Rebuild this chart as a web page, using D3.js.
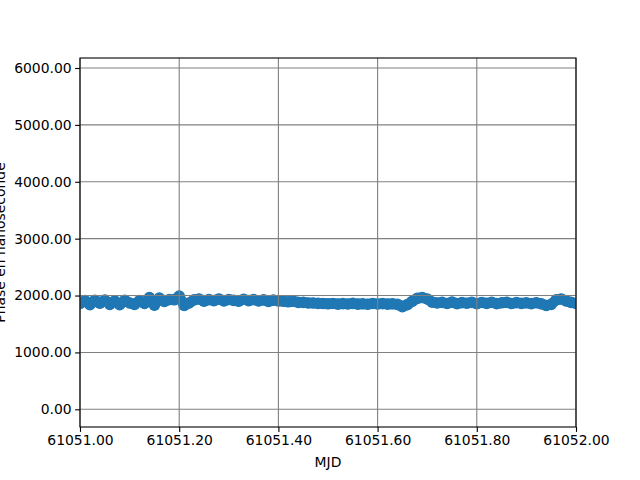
<!DOCTYPE html>
<html>
<head>
<meta charset="utf-8">
<script src="https://cdn.jsdelivr.net/npm/d3@7"></script>
<style>
  body { margin: 0; background: #fff; }
  text { font-family: "DejaVu Sans", sans-serif; }
</style>
</head>
<body>
<svg id="chart" width="640" height="480"></svg>
<script>
// ---- data ----
const mjdStart = 61051.0;
const mjdStep = 0.01;
const phaseNs = [
  1860, 1910, 1840, 1915, 1865, 1920, 1845, 1905, 1840, 1915,
  1870, 1845, 1910, 1860, 1965, 1830, 1955, 1895, 1930, 1925,
  1990, 1825, 1870, 1925, 1940, 1900, 1930, 1910, 1940, 1905,
  1930, 1915, 1900, 1935, 1910, 1930, 1905, 1925, 1895, 1920,
  1905, 1900, 1890, 1900, 1880, 1880, 1870, 1870, 1862, 1860,
  1855, 1860, 1850, 1858, 1852, 1862, 1850, 1856, 1848, 1860,
  1852, 1858, 1850, 1855, 1845, 1805, 1840, 1900, 1950, 1965,
  1940, 1885, 1870, 1880, 1860, 1885, 1858, 1875, 1865, 1880,
  1858, 1878, 1862, 1882, 1858, 1872, 1880, 1860, 1876, 1862,
  1872, 1858, 1874, 1855, 1825, 1845, 1925, 1940, 1905, 1880,
  1860
];
const mjd = phaseNs.map((_, i) => +(mjdStart + i * mjdStep).toFixed(2));
const xTicks = [61051.0, 61051.2, 61051.4, 61051.6, 61051.8, 61052.0];
const yTicks = [0, 1000, 2000, 3000, 4000, 5000, 6000];
const xLabel = "MJD";
const yLabel = "Phase en nanoseconde";

// ---- layout ----
const svg = d3.select("#chart");
const L = 80, R = 576, T = 58, B = 427;
const x = d3.scaleLinear().domain([61051.0, 61052.0]).range([L, R]);
const y = d3.scaleLinear().domain([-311, 6176]).range([B, T]);

svg.append("rect").attr("width", 640).attr("height", 480).attr("fill", "#fff");

svg.append("defs").append("clipPath").attr("id", "clip")
  .append("rect").attr("x", L).attr("y", T).attr("width", R - L).attr("height", B - T);

// data
const pts = svg.append("g").attr("clip-path", "url(#clip)");
pts.append("path")
  .datum(phaseNs.map((v, i) => [mjd[i], v]))
  .attr("fill", "none").attr("stroke", "#1f77b4").attr("stroke-width", 10.5)
  .attr("stroke-linejoin", "round").attr("stroke-linecap", "round")
  .attr("d", d3.line().x(d => x(d[0])).y(d => y(d[1])));
pts.selectAll("circle").data(phaseNs).join("circle")
  .attr("cx", (d, i) => x(mjd[i]))
  .attr("cy", d => y(d))
  .attr("r", 5.8)
  .attr("fill", "#1f77b4");

// grid (drawn above data)
const grid = svg.append("g");
grid.selectAll("line.gx").data(xTicks).join("line")
  .attr("x1", d => x(d)).attr("x2", d => x(d))
  .attr("y1", T).attr("y2", B)
  .attr("stroke", "#808080").attr("stroke-width", 1.1);
grid.selectAll("line.gy").data(yTicks).join("line")
  .attr("x1", L).attr("x2", R)
  .attr("y1", d => y(d)).attr("y2", d => y(d))
  .attr("stroke", "#808080").attr("stroke-width", 1.1);

// axes
const xAxis = d3.axisBottom(x).tickValues(xTicks).tickFormat(d3.format(".2f"))
  .tickSizeInner(4.9).tickSizeOuter(0).tickPadding(3.5);
const yAxis = d3.axisLeft(y).tickValues(yTicks).tickFormat(d3.format(".2f"))
  .tickSizeInner(4.9).tickSizeOuter(0).tickPadding(3.5);

const gx = svg.append("g").attr("transform", `translate(0,${B})`).call(xAxis);
const gy = svg.append("g").attr("transform", `translate(${L},0)`).call(yAxis);
[gx, gy].forEach(g => {
  g.select(".domain").remove();
  g.selectAll(".tick line").attr("stroke", "#000").attr("stroke-width", 1.1);
  g.selectAll(".tick text").attr("fill", "#000").style("font-size", "13.9px")
    .style("font-family", "DejaVu Sans, sans-serif");
});

// spines
svg.append("rect").attr("x", L).attr("y", T).attr("width", R - L).attr("height", B - T)
  .attr("fill", "none").attr("stroke", "#000").attr("stroke-width", 1.1);

// labels
svg.append("text").attr("x", (L + R) / 2).attr("y", 467)
  .attr("text-anchor", "middle").style("font-size", "13.9px").text(xLabel);
svg.append("text")
  .attr("transform", `translate(5,${(T + B) / 2}) rotate(-90)`)
  .attr("text-anchor", "middle").style("font-size", "13.9px").text(yLabel);
</script>
</body>
</html>
